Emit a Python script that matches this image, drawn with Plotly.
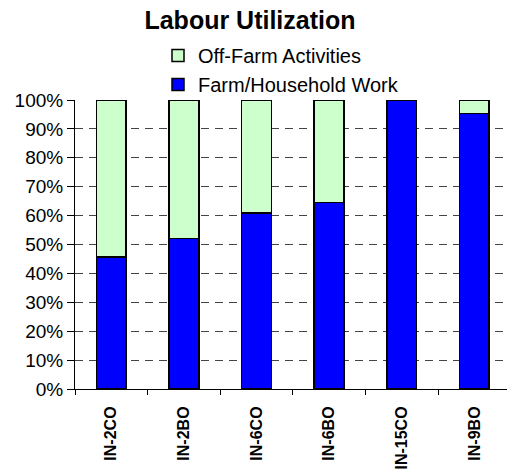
import plotly.graph_objects as go

categories = ["IN-2CO", "IN-2BO", "IN-6CO", "IN-6BO", "IN-15CO", "IN-9BO"]
farm_household = [45.6, 52.0, 60.9, 64.5, 100.0, 95.4]
off_farm = [54.4, 48.0, 39.1, 35.5, 0.0, 4.6]

FONT = "Arial, Liberation Sans, sans-serif"
H = 475

fig = go.Figure()
fig.add_trace(go.Bar(
    x=categories, y=[v / 100 for v in farm_household], name="Farm/Household Work",
    marker=dict(color="#0000FF", line=dict(color="black", width=1.5)),
))
fig.add_trace(go.Bar(
    x=categories, y=[v / 100 for v in off_farm], name="Off-Farm Activities",
    marker=dict(color="#CCFFCC", line=dict(color="black", width=1.5)),
))

fig.update_layout(
    width=507, height=H,
    margin=dict(l=75, r=0, t=100, b=86, autoexpand=False),
    barmode="stack", bargap=0.59,
    paper_bgcolor="white", plot_bgcolor="white",
    title=dict(text="<b>Labour Utilization</b>", x=250 / 507, xanchor="center",
               xref="container", yref="container",
               y=1 - 20 / H, yanchor="middle",
               font=dict(family=FONT, size=25, color="black")),
    legend=dict(traceorder="reversed", orientation="v",
                xref="container", yref="container",
                x=158 / 507, xanchor="left", y=1 - 36 / H, yanchor="top",
                font=dict(family=FONT, size=20, color="black"),
                tracegroupgap=0,
                bgcolor="rgba(0,0,0,0)"),
    font=dict(family=FONT, color="black"),
)

fig.update_xaxes(
    type="category", range=[-0.5, 5.45], automargin=False,
    showline=True, linecolor="black", linewidth=1,
    ticks="outside", tickson="boundaries", ticklen=5, tickcolor="black",
    tickangle=-90, tickfont=dict(family=FONT, size=16, color="black"),
    ticklabelstandoff=10,
    showgrid=False, zeroline=False,
    tickvals=categories, ticktext=[f"<b>{c}</b>" for c in categories],
)

fig.update_yaxes(
    range=[0, 1], tickvals=[i / 10 for i in range(11)], automargin=False,
    tickformat=".0%",
    showline=True, linecolor="black", linewidth=1,
    ticks="outside", ticklen=7, tickcolor="black",
    tickfont=dict(family=FONT, size=19, color="black"),
    showgrid=True, gridcolor="#444444", gridwidth=1, griddash="8px,6px",
    zeroline=False,
)

fig.write_html("out.html",
               config={"displayModeBar": False},
               post_script="document.body.style.margin='0';document.body.style.padding='0';")
